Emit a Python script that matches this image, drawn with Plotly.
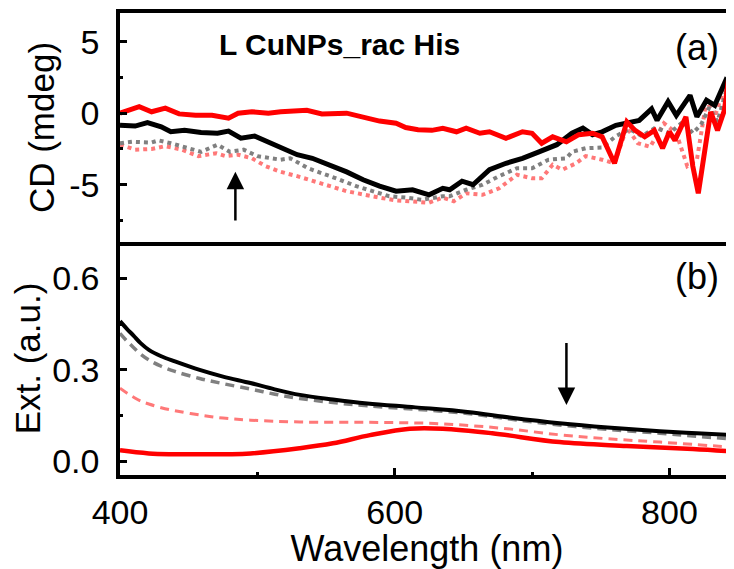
import plotly.graph_objects as go
from plotly.subplots import make_subplots

# ---------------- CD panel (a) ----------------
cd_black_x = [400, 411, 420, 430, 437, 447, 459, 471, 479, 488, 498, 508, 517, 529, 540, 553, 565, 577,
              589, 601, 613, 625, 635, 640, 649, 657, 669, 681, 693, 705, 718, 729, 737, 744, 751, 761,
              771, 778, 787, 791, 799, 805, 815, 820, 827, 833, 841, 847]
cd_black_y = [-0.85, -0.9, -0.65, -0.95, -1.3, -1.2, -1.35, -1.4, -1.25, -1.75, -1.6, -2.0, -2.45, -2.9,
              -3.15, -3.6, -4.1, -4.65, -5.1, -5.45, -5.35, -5.7, -5.25, -5.35, -4.75, -5.0, -3.95, -3.5,
              -3.15, -2.7, -2.2, -1.4, -1.05, -1.5, -1.3, -0.85, -0.6, -0.5, 0.3, -0.5, 0.8, -0.15, 1.25,
              -0.25, 0.9, 0.55, 2.3, 1.8]

cd_gray_x = [400, 409, 423, 428, 437, 447, 459, 471, 480, 490, 500, 517, 524, 537, 548, 560, 572, 584,
             596, 608, 620, 635, 640, 652, 664, 676, 689, 700, 712, 725, 729, 739, 751, 761, 771, 780,
             790, 800, 810, 817, 823, 829, 835, 842, 847]
cd_gray_y = [-2.1, -2.0, -2.05, -1.9, -2.1, -2.35, -2.7, -2.2, -2.7, -2.55, -3.0, -3.25, -3.15, -3.85,
             -4.2, -4.65, -5.1, -5.45, -5.8, -5.9, -6.05, -5.8, -5.8, -5.35, -5.0, -4.4, -3.85, -3.85,
             -3.25, -3.15, -2.7, -2.45, -2.4, -1.6, -1.1, -1.6, -1.0, -1.4, -0.6, -1.4, -0.8, 0.4, -0.6,
             1.8, 0.8]

cd_pink_x = [400, 411, 423, 433, 445, 457, 470, 477, 486, 496, 506, 517, 529, 540, 553, 565, 577, 589,
             601, 613, 625, 635, 643, 652, 664, 676, 689, 700, 707, 715, 722, 732, 739, 751, 760, 769,
             777, 786, 796, 805, 813, 820, 827, 833, 841, 847]
cd_pink_y = [-2.2, -2.55, -2.5, -2.3, -2.55, -3.0, -2.8, -3.0, -2.9, -3.15, -3.7, -4.1, -4.4, -4.75,
             -5.1, -5.45, -5.7, -5.9, -6.1, -6.15, -6.25, -5.9, -6.15, -5.6, -5.7, -5.25, -4.3, -4.55,
             -4.55, -3.6, -3.95, -3.5, -3.0, -3.25, -3.5, -1.0, -2.1, -2.35, -0.7, -1.4, -3.7, -3.25,
             0.9, -0.25, 2.15, 0.9]

cd_red_x = [400, 414, 423, 433, 443, 455, 467, 479, 486, 496, 508, 517, 536, 547, 565, 577, 589, 601,
            608, 617, 627, 635, 645, 652, 662, 669, 681, 693, 700, 707, 715, 725, 734, 744, 751, 760,
            769, 775, 782, 789, 795, 800, 804, 812, 817, 821, 826, 830, 835, 840, 844, 847]
cd_red_y = [0.0, 0.45, 0.1, 0.35, -0.05, -0.15, -0.15, -0.35, 0.0, 0.1, 0.0, 0.1, 0.2, -0.05, 0.0,
            -0.25, -0.55, -0.7, -1.0, -1.15, -1.2, -1.05, -1.3, -1.05, -1.4, -1.3, -1.75, -1.3, -1.4,
            -2.1, -1.65, -2.0, -1.5, -1.4, -1.65, -3.5, -0.6, -1.2, -1.65, -1.2, -2.45, -1.3, -1.9,
            -0.25, -3.7, -5.6, -2.35, 0.1, -1.2, 0.2, 3.1, 1.35]

# ---------------- Extinction panel (b) ----------------
ext_black_x = [400, 405, 410, 415, 421, 430, 440, 458, 475, 495, 512, 531, 555, 580, 615, 653, 685, 720, 755, 793, 820, 846]
ext_black_y = [0.46, 0.435, 0.412, 0.388, 0.366, 0.345, 0.328, 0.30, 0.278, 0.257, 0.237, 0.218, 0.203, 0.19, 0.177,
               0.162, 0.143, 0.125, 0.111, 0.099, 0.092, 0.086]

ext_gray_x = [400, 405, 410, 415, 421, 430, 440, 458, 475, 495, 512, 531, 555, 580, 615, 653, 685, 720, 755, 793, 820, 846]
ext_gray_y = [0.42, 0.395, 0.373, 0.352, 0.333, 0.312, 0.295, 0.272, 0.255, 0.237, 0.221, 0.206, 0.193, 0.182, 0.171,
              0.157, 0.138, 0.119, 0.105, 0.092, 0.082, 0.073]

ext_pink_x = [400, 405, 410, 415, 421, 430, 440, 458, 475, 495, 531, 580, 629, 677, 720, 755, 793, 846]
ext_pink_y = [0.24, 0.224, 0.21, 0.198, 0.188, 0.176, 0.166, 0.152, 0.142, 0.135, 0.129, 0.128, 0.124, 0.109, 0.087,
              0.074, 0.063, 0.046]

ext_red_x = [400, 421, 458, 495, 531, 555, 582, 611, 635, 671, 720, 769, 817, 846]
ext_red_y = [0.036, 0.026, 0.023, 0.026, 0.043, 0.059, 0.086, 0.107, 0.107, 0.092, 0.063, 0.05, 0.04, 0.032]

cd_ticks = [-5, 0, 5]
cd_ticktext = ["-5", "0", "5"]
cd_minor = [-7.5, -2.5, 2.5]
ext_ticks = [0.0, 0.3, 0.6]
ext_ticktext = ["0.0", "0.3", "0.6"]
ext_minor = [0.15, 0.45]
wl_ticks = [400, 600, 800]
wl_minor = [500, 700]

BLACK = "#000000"
GRAY = "#808080"
PINK = "#ff7878"
RED = "#ff0000"
FONT = "Liberation Sans, Arial, sans-serif"

fig = make_subplots(rows=2, cols=1, shared_xaxes=True, vertical_spacing=0)

# panel (a)
fig.add_trace(go.Scatter(x=cd_pink_x, y=cd_pink_y, mode="lines",
                         line=dict(color=PINK, width=4, dash="4px,4px")), row=1, col=1)
fig.add_trace(go.Scatter(x=cd_gray_x, y=cd_gray_y, mode="lines",
                         line=dict(color=GRAY, width=4, dash="4px,4px")), row=1, col=1)
fig.add_trace(go.Scatter(x=cd_black_x, y=cd_black_y, mode="lines",
                         line=dict(color=BLACK, width=5)), row=1, col=1)
fig.add_trace(go.Scatter(x=cd_red_x, y=cd_red_y, mode="lines",
                         line=dict(color=RED, width=5)), row=1, col=1)

# panel (b)
fig.add_trace(go.Scatter(x=ext_pink_x, y=ext_pink_y, mode="lines",
                         line=dict(color=PINK, width=3, dash="9px,6px", shape="spline")), row=2, col=1)
fig.add_trace(go.Scatter(x=ext_gray_x, y=ext_gray_y, mode="lines",
                         line=dict(color=GRAY, width=3.5, dash="9px,6px", shape="spline")), row=2, col=1)
fig.add_trace(go.Scatter(x=ext_black_x, y=ext_black_y, mode="lines",
                         line=dict(color=BLACK, width=4, shape="spline")), row=2, col=1)
fig.add_trace(go.Scatter(x=ext_red_x, y=ext_red_y, mode="lines",
                         line=dict(color=RED, width=4.5, shape="spline")), row=2, col=1)

split = (475 - 242) / 462.0
axis_common = dict(showline=True, linecolor="black", linewidth=3.5, showgrid=False, zeroline=False,
                   automargin=False)

fig.update_xaxes(range=[400, 847], **axis_common)
fig.update_xaxes(row=1, col=1, mirror=True, ticks="", showticklabels=False, domain=[0, 1])
fig.update_xaxes(row=2, col=1, mirror=False, ticks="inside", ticklen=7, tickwidth=3, tickcolor="black",
                 tickvals=wl_ticks, ticklabelstandoff=4,
                 tickfont=dict(size=34, color="black", family=FONT),
                 minor=dict(tickvals=wl_minor, ticks="inside", ticklen=3, tickwidth=3, tickcolor="black"),
                 title=dict(text="Wavelength (nm)", font=dict(size=36, color="black", family=FONT), standoff=5))

fig.update_yaxes(row=1, col=1, **axis_common, mirror=False, range=[-9, 7], domain=[split, 1],
                 ticks="inside", ticklen=7, tickwidth=3, tickcolor="black", tickvals=cd_ticks,
                 ticktext=cd_ticktext, ticklabelstandoff=10,
                 tickfont=dict(size=34, color="black", family=FONT),
                 minor=dict(tickvals=cd_minor, ticks="inside", ticklen=3, tickwidth=3, tickcolor="black"),
                 title=dict(text="CD (mdeg)", font=dict(size=35, color="black", family=FONT), standoff=5))
fig.update_yaxes(row=2, col=1, **axis_common, mirror=False, range=[-0.045, 0.72], domain=[0, split],
                 ticks="inside", ticklen=7, tickwidth=3, tickcolor="black", tickvals=ext_ticks,
                 ticktext=ext_ticktext, ticklabelstandoff=10,
                 tickfont=dict(size=34, color="black", family=FONT),
                 minor=dict(tickvals=ext_minor, ticks="inside", ticklen=3, tickwidth=3, tickcolor="black"),
                 title=dict(text="Ext. (a.u.)", font=dict(size=35, color="black", family=FONT), standoff=18))

fig.add_annotation(text="<b>L CuNPs_rac His</b>", xref="x", yref="y", x=560, y=4.8,
                   showarrow=False, font=dict(size=30, color="black", family=FONT))
fig.add_annotation(text="(a)", xref="paper", yref="y", x=0.94, y=4.6, xanchor="center",
                   showarrow=False, font=dict(size=36, color="black", family=FONT))
fig.add_annotation(text="(b)", xref="paper", yref="y2", x=0.94, y=0.608, xanchor="center",
                   showarrow=False, font=dict(size=36, color="black", family=FONT))

# arrows
fig.add_annotation(x=484, y=-4.1, ax=484, ay=-7.6, xref="x", yref="y", axref="x", ayref="y",
                   showarrow=True, arrowhead=2, arrowsize=1.4, arrowwidth=2.5, arrowcolor="black", text="")
fig.add_annotation(x=725, y=0.185, ax=725, ay=0.393, xref="x2", yref="y2", axref="x2", ayref="y2",
                   showarrow=True, arrowhead=2, arrowsize=1.4, arrowwidth=2.5, arrowcolor="black", text="")

# the page body adds an 8 px margin; size the figure so the plot area lands where the reference has it
fig.update_layout(width=726, height=561, margin=dict(l=112, r=0, t=5, b=94),
                  plot_bgcolor="white", paper_bgcolor="white", showlegend=False,
                  font=dict(family=FONT, color="black"))

fig.write_html("out.html")
